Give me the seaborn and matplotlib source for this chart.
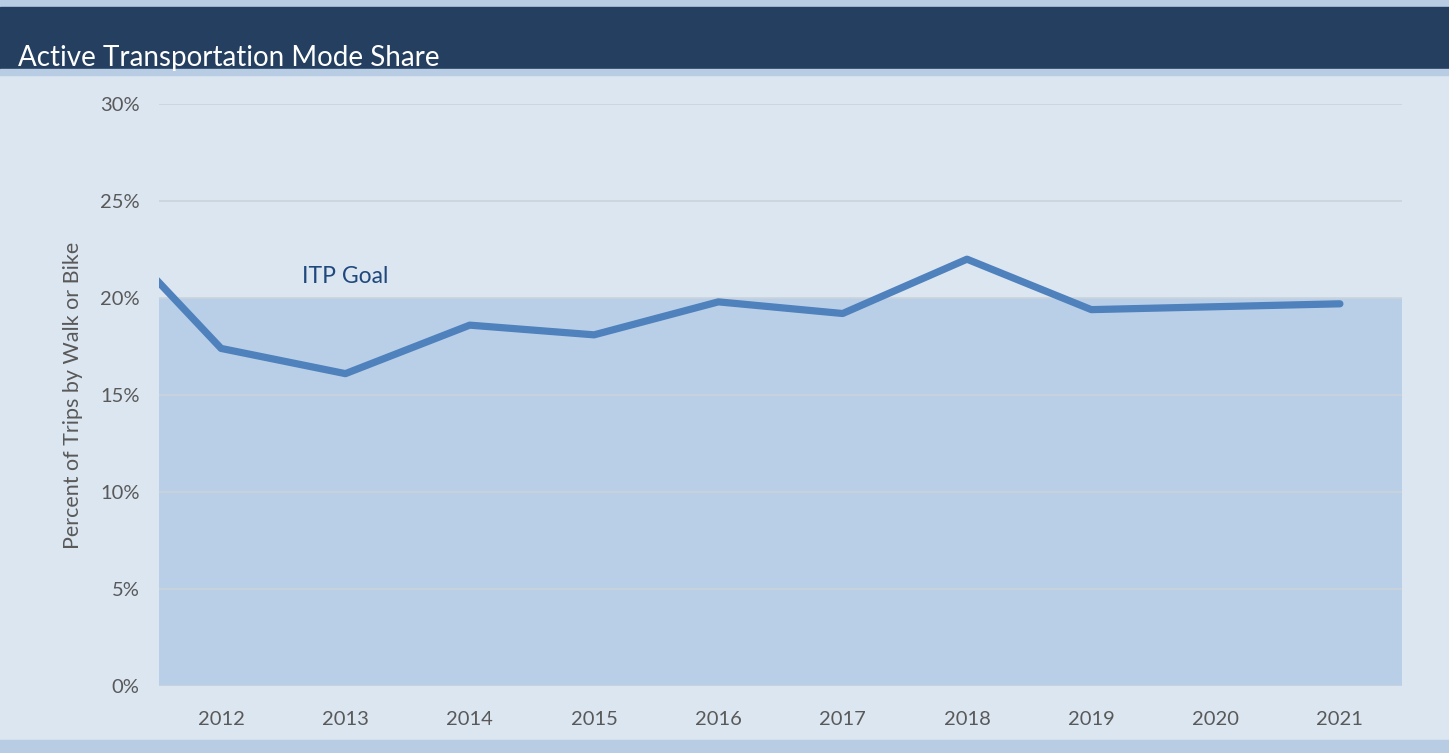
import pandas as pd
import matplotlib.pyplot as plt
import seaborn as sns
from matplotlib.patches import Rectangle

# Data (2011 lies just outside the visible range)
years = [2011, 2012, 2013, 2014, 2015, 2016, 2017, 2018, 2019, 2020, 2021]
mode_share = [24.2, 17.4, 16.1, 18.6, 18.1, 19.8, 19.2, 22.0, 19.4, 19.55, 19.7]
itp_goal = 20
tick_years = [2012, 2013, 2014, 2015, 2016, 2017, 2018, 2019, 2020, 2021]
y_ticks = [0, 5, 10, 15, 20, 25, 30]

df = pd.DataFrame({'Year': years, 'Share': mode_share})

sns.set_style('white')
plt.rcParams['font.family'] = ['Lato', 'DejaVu Sans']

bg = '#dce6f1'
fig = plt.figure(figsize=(14.49, 7.53), dpi=100)
fig.patch.set_facecolor(bg)

# Header bar and thin accent strips
fig.add_artist(Rectangle((0, 0.9907), 1, 0.0093, transform=fig.transFigure, color='#b8cce4', zorder=0))
fig.add_artist(Rectangle((0, 0.9084), 1, 0.0823, transform=fig.transFigure, color='#243f60', zorder=0))
fig.add_artist(Rectangle((0, 0.9004), 1, 0.0080, transform=fig.transFigure, color='#b8cce4', zorder=0))
fig.add_artist(Rectangle((0, 0), 1, 0.0170, transform=fig.transFigure, color='#b8cce4', zorder=0))
fig.text(0.0124, 0.9125, 'Active Transportation Mode Share', color='white',
         fontsize=20, ha='left', va='baseline')

ax = fig.add_axes([0.1097, 0.0890, 0.8579, 0.7729])
ax.set_facecolor(bg)

# Goal band
ax.axhspan(0, itp_goal, color='#b9cfe8', zorder=1, lw=0)
for t in y_ticks:
    ax.axhline(t, color='#ccd3da', lw=1.2, zorder=2)

sns.lineplot(data=df, x='Year', y='Share', ax=ax, color='#4f81bd', lw=5.2,
             solid_capstyle='round', zorder=3)

ax.text(2013.0, 21.1, 'ITP Goal', color='#1f497d', fontsize=16.5, ha='center', va='center')

ax.set_xlim(2011.5, 2021.5)
ax.set_ylim(0, 30)
ax.set_xticks(tick_years)
ax.set_xticklabels([str(y) for y in tick_years])
ax.set_yticks(y_ticks)
ax.set_yticklabels([f'{t}%' for t in y_ticks])
ax.tick_params(axis='both', length=0, labelsize=14.5, colors='#595959')
ax.tick_params(axis='x', pad=18)
ax.tick_params(axis='y', pad=14)
ax.set_xlabel('')
ax.set_ylabel('Percent of Trips by Walk or Bike', fontsize=15.5, color='#595959', labelpad=12)
for s in ax.spines.values():
    s.set_visible(False)

fig.savefig('out.png', dpi=100, facecolor=bg)
